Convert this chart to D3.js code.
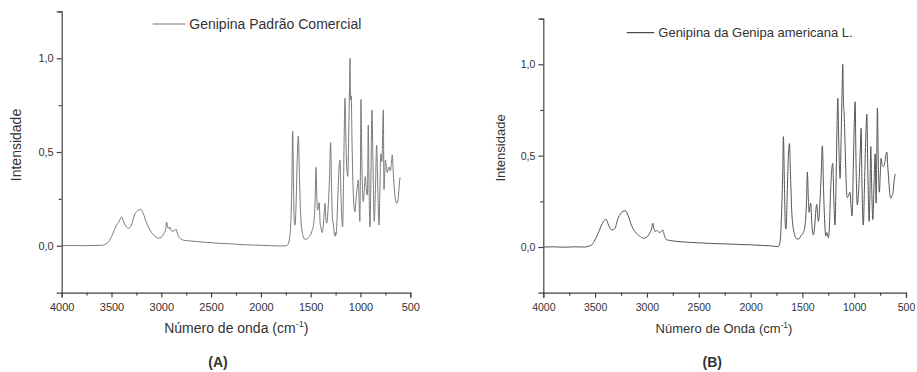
<!DOCTYPE html>
<html>
<head>
<meta charset="utf-8">
<script src="https://cdn.jsdelivr.net/npm/d3@7/dist/d3.min.js"></script>
<style>
  body { margin: 0; background: #fff; }
  text { font-family: "Liberation Sans", Arial, sans-serif; fill: #333; }
</style>
</head>
<body>
<div id="chart"></div>
<script>
// spectrum A: commercial genipin standard
const waveA = [4000, 3900, 3800, 3700, 3600, 3560, 3530, 3490, 3450, 3425, 3410, 3398, 3380, 3350, 3331, 3300, 3264, 3240, 3207, 3180, 3150, 3130, 3090, 3050, 3030, 3000, 2973, 2955, 2946, 2935, 2925, 2915, 2896, 2870, 2852, 2835, 2812, 2780, 2745, 2700, 2600, 2500, 2400, 2300, 2200, 2100, 2000, 1900, 1800, 1740, 1725, 1705, 1690, 1681, 1672, 1665, 1658, 1648, 1636, 1624, 1612, 1600, 1580, 1557, 1530, 1505, 1490, 1470, 1455, 1447, 1438, 1430, 1422, 1415, 1405, 1395, 1384, 1372, 1364, 1357, 1348, 1340, 1325, 1312, 1300, 1290, 1282, 1275, 1268, 1262, 1255, 1250, 1246, 1235, 1225, 1215, 1206, 1195, 1185, 1179, 1170, 1162, 1156, 1148, 1138, 1128, 1118, 1110, 1105, 1100, 1093, 1085, 1075, 1065, 1055, 1045, 1035, 1022, 1012, 1007, 1000, 995, 988, 980, 972, 962, 952, 940, 930, 922, 915, 905, 897, 885, 875, 862, 850, 838, 826, 814, 805, 797, 785, 771, 764, 757, 750, 740, 730, 722, 715, 700, 690, 681, 672, 663, 650, 636, 625, 620, 610, 603];
const intA = [0, 0.001, 0, 0.001, 0.002, 0.008, 0.02, 0.06, 0.11, 0.128, 0.145, 0.155, 0.13, 0.1, 0.093, 0.11, 0.17, 0.185, 0.194, 0.17, 0.125, 0.1, 0.065, 0.045, 0.04, 0.045, 0.066, 0.09, 0.125, 0.1, 0.09, 0.1, 0.078, 0.08, 0.089, 0.06, 0.04, 0.03, 0.027, 0.025, 0.02, 0.016, 0.012, 0.01, 0.006, 0.004, 0.002, 0, -0.002, 0, 0.01, 0.08, 0.3, 0.612, 0.3, 0.13, 0.11, 0.2, 0.45, 0.585, 0.35, 0.155, 0.06, 0.034, 0.04, 0.055, 0.075, 0.12, 0.25, 0.418, 0.25, 0.19, 0.21, 0.23, 0.12, 0.09, 0.07, 0.12, 0.18, 0.226, 0.15, 0.12, 0.2, 0.35, 0.55, 0.3, 0.15, 0.12, 0.09, 0.06, 0.05, 0.07, 0.057, 0.15, 0.3, 0.42, 0.457, 0.25, 0.12, 0.1, 0.35, 0.65, 0.787, 0.6, 0.42, 0.37, 0.6, 0.85, 1.0, 0.78, 0.8, 0.55, 0.32, 0.21, 0.18, 0.25, 0.3, 0.35, 0.2, 0.13, 0.45, 0.78, 0.5, 0.3, 0.235, 0.3, 0.37, 0.29, 0.27, 0.644, 0.35, 0.1, 0.3, 0.724, 0.45, 0.13, 0.3, 0.537, 0.3, 0.11, 0.3, 0.49, 0.45, 0.724, 0.3, 0.38, 0.457, 0.42, 0.39, 0.41, 0.42, 0.4, 0.44, 0.484, 0.4, 0.32, 0.25, 0.226, 0.24, 0.26, 0.33, 0.365];

// spectrum B: genipin from Genipa americana
const waveB = [4000, 3900, 3800, 3700, 3600, 3560, 3533, 3500, 3460, 3430, 3395, 3370, 3340, 3310, 3280, 3250, 3211, 3180, 3150, 3115, 3070, 3035, 3000, 2970, 2955, 2944, 2932, 2922, 2905, 2880, 2860, 2848, 2830, 2810, 2770, 2700, 2600, 2500, 2400, 2300, 2200, 2100, 2000, 1900, 1800, 1740, 1732, 1715, 1700, 1690, 1683, 1672, 1665, 1657, 1648, 1635, 1625, 1612, 1600, 1580, 1561, 1540, 1515, 1490, 1470, 1460, 1452, 1442, 1435, 1427, 1420, 1408, 1394, 1380, 1370, 1361, 1352, 1345, 1330, 1318, 1307, 1295, 1283, 1275, 1265, 1256, 1249, 1240, 1228, 1217, 1207, 1196, 1185, 1175, 1166, 1158, 1148, 1136, 1126, 1117, 1110, 1104, 1097, 1085, 1075, 1066, 1055, 1040, 1030, 1020, 1008, 998, 991, 982, 970, 960, 950, 940, 933, 925, 912, 900, 888, 878, 868, 855, 848, 840, 830, 820, 808, 798, 788, 782, 776, 767, 757, 748, 741, 730, 719, 705, 695, 685, 677, 669, 658, 647, 635, 625, 615, 605];
const intB = [0, 0.001, -0.001, 0.001, 0, 0.005, 0.012, 0.04, 0.09, 0.13, 0.152, 0.12, 0.093, 0.1, 0.155, 0.185, 0.199, 0.17, 0.12, 0.084, 0.06, 0.048, 0.055, 0.08, 0.1, 0.13, 0.1, 0.085, 0.09, 0.08, 0.085, 0.093, 0.06, 0.04, 0.035, 0.03, 0.026, 0.023, 0.02, 0.018, 0.016, 0.014, 0.012, 0.009, 0.006, 0.002, 0.003, 0.03, 0.2, 0.4, 0.604, 0.3, 0.12, 0.098, 0.25, 0.5, 0.567, 0.35, 0.17, 0.08, 0.05, 0.042, 0.06, 0.08, 0.14, 0.25, 0.41, 0.26, 0.19, 0.22, 0.24, 0.12, 0.066, 0.12, 0.2, 0.234, 0.17, 0.14, 0.25, 0.4, 0.554, 0.3, 0.12, 0.06, 0.08, 0.06, 0.05, 0.1, 0.3, 0.42, 0.458, 0.25, 0.12, 0.35, 0.65, 0.814, 0.55, 0.376, 0.6, 0.85, 1.0, 0.8, 0.73, 0.5, 0.32, 0.27, 0.28, 0.3, 0.22, 0.17, 0.45, 0.7, 0.795, 0.45, 0.23, 0.28, 0.4, 0.55, 0.65, 0.35, 0.12, 0.35, 0.6, 0.726, 0.4, 0.14, 0.3, 0.55, 0.3, 0.15, 0.35, 0.51, 0.24, 0.5, 0.76, 0.45, 0.3, 0.4, 0.485, 0.45, 0.44, 0.46, 0.5, 0.52, 0.45, 0.39, 0.3, 0.267, 0.28, 0.3, 0.36, 0.4];

const xMajor = [4000, 3500, 3000, 2500, 2000, 1500, 1000, 500];
const xMinor = [3750, 3250, 2750, 2250, 1750, 1250, 750];
const yMajor = [0, 0.5, 1.0];
const yMinor = [0.25, 0.75, 1.25];

const panels = [
  { wave: waveA, ints: intA, x0: 61.7, x1: 410.3, yBottom: 292.55, yTop: 11.45,
    stroke: '#7a7a7a', legendStroke: '#777', font: 14, tickFont: 11,
    legend: 'Genipina Padrão Comercial', lx: 152.7, ly: 24, tx: 189.3, ty: 28.8,
    xTitle: 'Número de onda', xtx: 236.3, xty: 333, ytx: 20.5, yty: 145,
    tag: '(A)', tagx: 218, tagy: 367 },
  { wave: waveB, ints: intB, x0: 543.3, x1: 906, yBottom: 292.7, yTop: 18.6,
    stroke: '#555', legendStroke: '#222', font: 13, tickFont: 10.5,
    legend: 'Genipina da Genipa americana L.', lx: 626.7, ly: 32.7, tx: 658.3, ty: 37,
    xTitle: 'Número de Onda', xtx: 724, xty: 333, ytx: 505, yty: 148,
    tag: '(B)', tagx: 712.3, tagy: 367 }
];

const svg = d3.select('#chart').append('svg')
  .attr('width', 917)
  .attr('height', 372);

const fmt = d => d3.format('.1f')(d).replace('.', ',');

panels.forEach(p => {
  const x = d3.scaleLinear().domain([4000, 500]).range([p.x0, p.x1]);
  const y = d3.scaleLinear().domain([-0.25, 1.25]).range([p.yBottom, p.yTop]);
  const g = svg.append('g');

  // spectrum trace
  const data = p.wave.map((w, i) => [w, p.ints[i]]);
  g.append('path')
    .datum(data)
    .attr('fill', 'none')
    .attr('stroke', p.stroke)
    .attr('stroke-width', 1)
    .attr('stroke-linejoin', 'round')
    .attr('d', d3.line().x(d => x(d[0])).y(d => y(d[1])).curve(d3.curveMonotoneX));

  // axes
  const xAxis = g.append('g')
    .attr('transform', `translate(0,${p.yBottom})`)
    .call(d3.axisBottom(x).tickValues(xMajor).tickSize(5).tickPadding(6).tickFormat(d3.format('d')));
  g.append('g')
    .attr('transform', `translate(0,${p.yBottom})`)
    .call(d3.axisBottom(x).tickValues(xMinor).tickSize(3).tickFormat(''))
    .select('.domain').remove();
  const yAxis = g.append('g')
    .attr('transform', `translate(${p.x0},0)`)
    .call(d3.axisLeft(y).tickValues(yMajor).tickSize(5).tickPadding(3).tickFormat(fmt));
  g.append('g')
    .attr('transform', `translate(${p.x0},0)`)
    .call(d3.axisLeft(y).tickValues(yMinor).tickSize(3).tickFormat(''))
    .select('.domain').remove();

  g.selectAll('.domain, .tick line').attr('stroke', '#444').attr('stroke-width', 1.2);
  g.selectAll('.tick text')
    .attr('font-family', '"Liberation Sans", Arial, sans-serif')
    .attr('font-size', p.tickFont)
    .attr('fill', '#333');

  // legend
  g.append('line')
    .attr('x1', p.lx).attr('x2', p.tx - 4)
    .attr('y1', p.ly).attr('y2', p.ly)
    .attr('stroke', p.legendStroke).attr('stroke-width', 1);
  g.append('text')
    .attr('x', p.tx).attr('y', p.ty)
    .attr('font-size', p.font)
    .text(p.legend);

  // axis titles
  const xt = g.append('text')
    .attr('x', p.xtx).attr('y', p.xty)
    .attr('text-anchor', 'middle')
    .attr('font-size', p.font);
  xt.append('tspan').text(p.xTitle + ' (cm');
  xt.append('tspan').attr('font-size', p.font * 0.65).attr('dy', -p.font * 0.4).text('-1');
  xt.append('tspan').attr('dy', p.font * 0.4).text(')');

  g.append('text')
    .attr('transform', `translate(${p.ytx},${p.yty}) rotate(-90)`)
    .attr('text-anchor', 'middle')
    .attr('font-size', p.font)
    .text('Intensidade');

  g.append('text')
    .attr('x', p.tagx).attr('y', p.tagy)
    .attr('text-anchor', 'middle')
    .attr('font-size', 14)
    .attr('font-weight', 'bold')
    .text(p.tag);
});
</script>
</body>
</html>
